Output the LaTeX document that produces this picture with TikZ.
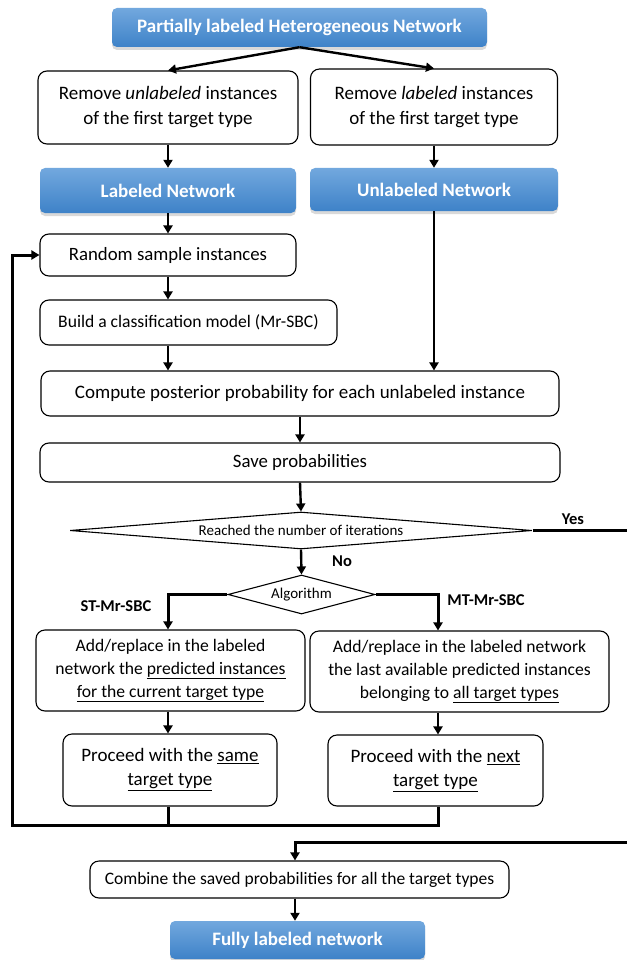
\documentclass[tikz,border=0pt]{standalone}
\usepackage{fontspec}
\setmainfont{Carlito}
\usetikzlibrary{shapes.geometric,arrows.meta,shadows}
\definecolor{netTop}{RGB}{114,168,222}
\definecolor{netBot}{RGB}{62,130,200}
\tikzset{
  stepbox/.style={draw,rounded corners=9pt,line width=1.1pt,align=center,inner sep=0pt},
  netbox/.style={rounded corners=5pt,top color=netTop,bottom color=netBot,text=white,inner sep=0pt,
    font=\fontsize{19}{22}\selectfont\bfseries,drop shadow={opacity=.3,shadow xshift=0pt,shadow yshift=-3pt}},
  cond/.style={diamond,draw,line width=1.1pt,inner sep=0pt,font=\fontsize{15}{17}\selectfont},
  arr/.style={line width=2.4pt,->},
  back/.style={line width=3pt},
  tag/.style={font=\fontsize{16.5}{19}\selectfont\bfseries},
  >={Triangle[length=8pt,width=9pt]},
}

\begin{document}
\begin{tikzpicture}[x=1pt,y=-1pt]
\useasboundingbox (0,0) rectangle (626,960);
\coordinate (colL) at (168,0);
\coordinate (colR) at (438,0);
\coordinate (colM) at (295,0);
\coordinate (loopB) at (12,825);
\coordinate (yesR) at (629,842);
% networks and first steps
\node[netbox,minimum width=375pt,minimum height=39pt] (top) at (299.5,27.5) {Partially labeled Heterogeneous Network};
\node[stepbox,minimum width=260pt,minimum height=73pt,font=\fontsize{19}{25}\selectfont] (rmU) at (168,107.5)
  {Remove \emph{unlabeled} instances\\of the first target type};
\node[stepbox,minimum width=247pt,minimum height=76pt,font=\fontsize{19}{25}\selectfont] (rmL) at (434,107)
  {Remove \emph{labeled} instances\\of the first target type};
\node[netbox,minimum width=256pt,minimum height=45pt] (lab) at (168,190.5) {Labeled Network};
\node[netbox,minimum width=248pt,minimum height=43pt] (unlab) at (434,189.5) {Unlabeled Network};
% main loop
\node[stepbox,minimum width=256pt,minimum height=42pt,font=\fontsize{18.8}{22}\selectfont] (rand) at (168,255) {Random sample instances};
\node[stepbox,minimum width=297pt,minimum height=45pt,font=\fontsize{17.6}{21}\selectfont] (build) at (188.5,322.5) {Build a classification model (Mr-SBC)};
\node[stepbox,minimum width=518pt,minimum height=45pt,font=\fontsize{19}{22}\selectfont] (post) at (300,393.5) {Compute posterior probability for each unlabeled instance};
\node[stepbox,minimum width=520pt,minimum height=39pt,font=\fontsize{18.8}{22}\selectfont] (save) at (300,462.5) {Save probabilities};
\node[cond,aspect=12,minimum width=462pt,minimum height=37pt] (reach) at (301,530.5) {Reached the number of iterations};
\node[cond,aspect=4,minimum width=147pt,minimum height=39pt] (algo) at (301.5,594.5) {Algorithm};
\node[stepbox,minimum width=269pt,minimum height=81pt,font=\fontsize{17.6}{23}\selectfont] (addL) at (170.5,670.5)
  {Add/replace in the labeled\\network the \underline{predicted instances}\\\underline{for the current target type}};
\node[stepbox,minimum width=299pt,minimum height=81pt,font=\fontsize{17.6}{23}\selectfont] (addR) at (459.5,671.5)
  {Add/replace in the labeled network\\the last available predicted instances\\belonging to \underline{all target types}};
\node[stepbox,minimum width=214pt,minimum height=72pt,font=\fontsize{19}{24}\selectfont] (procL) at (170,770)
  {Proceed with the \underline{same}\\\underline{target type}};
\node[stepbox,minimum width=215pt,minimum height=71pt,font=\fontsize{19}{24}\selectfont] (procR) at (435.5,770.5)
  {Proceed with the \underline{next}\\\underline{target type}};
\node[stepbox,minimum width=419pt,minimum height=37pt,font=\fontsize{17.5}{20}\selectfont] (comb) at (299.5,879.5) {Combine the saved probabilities for all the target types};
\node[netbox,minimum width=255pt,minimum height=38pt] (full) at (297.5,940) {Fully labeled network};
% labels
\node[tag] (yes) at (573,519) {Yes};
\node[tag] (no) at (342,561) {No};
\node[tag] (st) at (116,606) {ST-Mr-SBC};
\node[tag] (mt) at (486,600) {MT-Mr-SBC};
% connectors
\draw[arr] (top.south) -- (rmU.north);
\draw[arr] (top.south) -- (rmL.north);
\draw[arr] (rmU.south) -- (lab.north);
\draw[arr] (rmL.south) -- (unlab.north);
\draw[arr] (lab.south) -- (rand.north);
\draw[arr] (rand.south) -- (colL |- build.north);
\draw[arr] (colL |- build.south) -- (colL |- post.north);
\draw[arr] (unlab.south) -- (unlab.south |- post.north);
\draw[arr] (post.south) -- (save.north);
\draw[arr] (save.south) -- (reach.north);
\draw[arr] (reach.south) -- (algo.north);
\draw[back,->] (algo.west) -| (colL |- addL.north);
\draw[back,->] (algo.east) -| (colR |- addR.north);
\draw[arr] (colL |- addL.south) -- (colL |- procL.north);
\draw[arr] (colR |- addR.south) -- (colR |- procR.north);
\draw[back] (colL |- procL.south) -- (colL |- loopB);
\draw[back,->] (colR |- procR.south) |- (loopB) |- (rand.west);
\draw[back,->] (reach.east) -| (yesR) -| (colM |- comb.north);
\draw[arr] (colM |- comb.south) -- (colM |- full.north);
\end{tikzpicture}
\end{document}
